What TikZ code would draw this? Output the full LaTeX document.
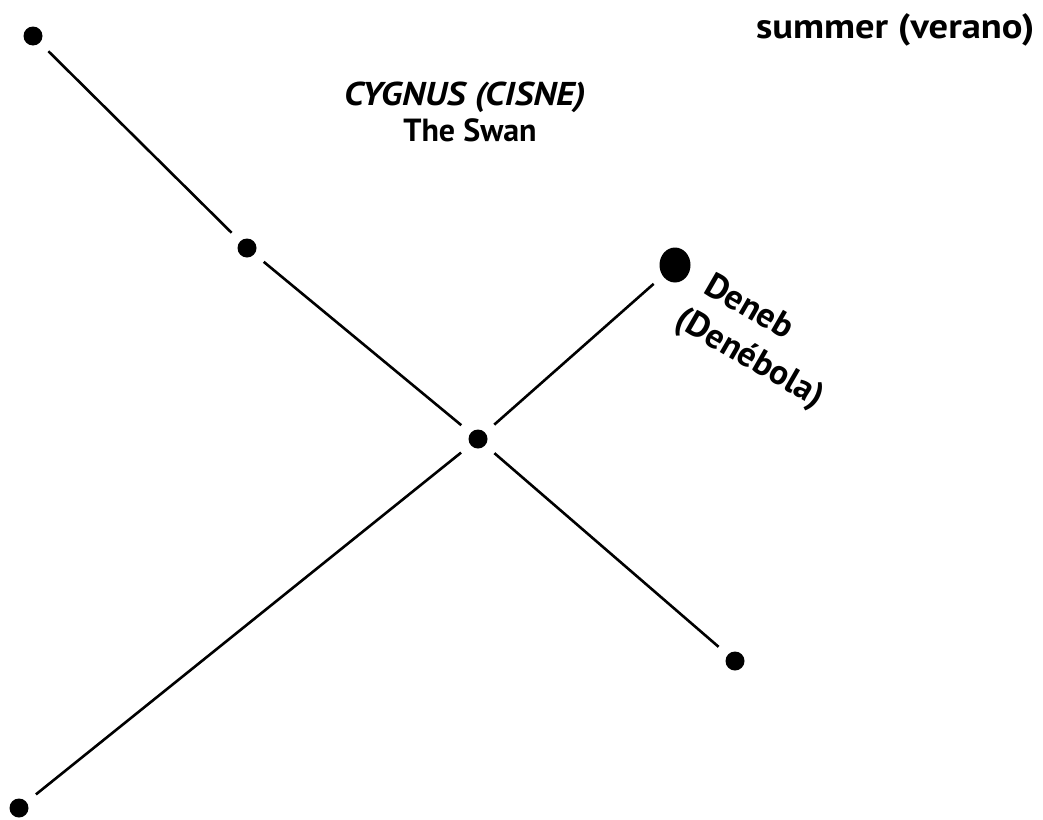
\documentclass[tikz,border=0pt]{standalone}
\usepackage{fontspec}
\usepackage{graphicx}
\setmainfont{PT Sans}
\usetikzlibrary{shapes.geometric}
\begin{document}
\begin{tikzpicture}[x=1pt,y=-1pt,
  star/.style={circle,fill=black,inner sep=0pt,minimum size=19pt},
  bigstar/.style={ellipse,fill=black,inner sep=0pt,minimum width=31pt,minimum height=35pt},
  link/.style={line width=2.6pt,shorten >=12pt,shorten <=12pt},
  lbl/.style={inner sep=0pt,font=\fontsize{32}{36}\selectfont\bfseries},
  starlbl/.style={inner sep=0pt,anchor=base west,rotate=-30,font=\fontsize{35}{40}\selectfont\bfseries}]
\useasboundingbox (0,0) rectangle (1043,819);
\node[star] (a) at (33,36) {};
\node[star] (b) at (247,248) {};
\node[star] (c) at (478,439) {};
\node[star] (d) at (735,661) {};
\node[star] (e) at (19,808) {};
\node[bigstar] (deneb) at (675,265) {};
\draw[link] (a) -- (b);
\draw[link] (b) -- (c);
\draw[link] (c) -- (d);
\draw[link] (e) -- (c);
\draw[link] (c) -- (deneb);
\node[lbl,anchor=base west,font=\fontsize{35}{40}\selectfont\bfseries] (season) at (756,38) {\scalebox{1.1}[1]{summer (verano)}};
\node[lbl,anchor=base west,font=\fontsize{33}{38}\selectfont\bfseries\itshape] (latin) at (344,105) {\scalebox{1.1}[1]{CYGNUS (CISNE)}};
\node[lbl,anchor=base] (eng) at (470,141) {The Swan};
\node[starlbl] (name1) at (702,292) {Deneb};
\node[starlbl] (name2) at (673,325) {(Denébola)};
\end{tikzpicture}
\end{document}
